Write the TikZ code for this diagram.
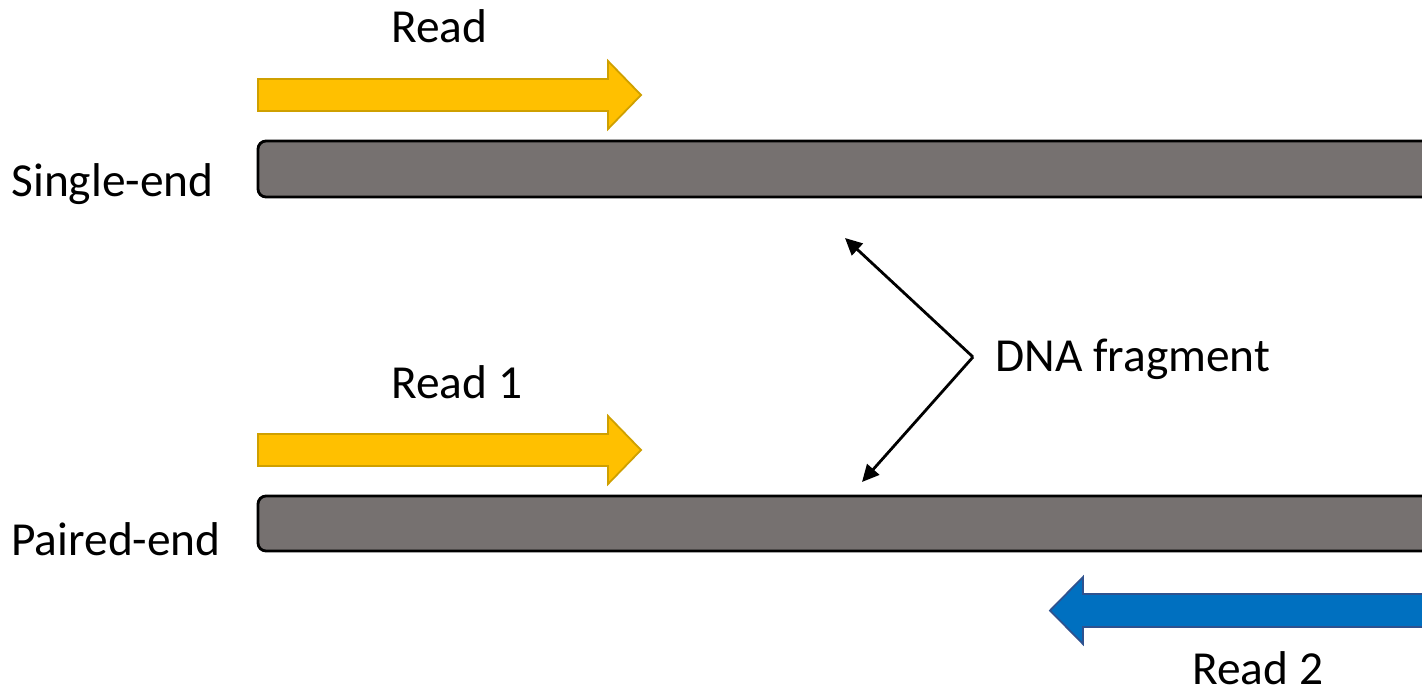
\documentclass[tikz,border=0pt]{standalone}
\usepackage{fontspec}
\setmainfont{Carlito}
\usetikzlibrary{arrows.meta}
\definecolor{barfill}{HTML}{767170}
\definecolor{readfill}{HTML}{FFC000}
\definecolor{readedge}{HTML}{CFA000}
\definecolor{bluefill}{HTML}{0070C0}
\definecolor{blueedge}{HTML}{2F528F}
\tikzset{
  lbl/.style={anchor=base west, inner sep=0pt, font=\fontsize{23.7}{28}\selectfont},
  bar/.style={fill=barfill, draw=black, line width=1.4pt, rounded corners=4pt},
  yread/.style={fill=readfill, draw=readedge, line width=0.9pt, line join=miter},
  bread/.style={fill=bluefill, draw=blueedge, line width=0.9pt, line join=miter},
  pointer/.style={draw=black, line width=1.4pt, -{Triangle[length=8.5pt, width=8pt]}}
}
\begin{document}
\begin{tikzpicture}[x=0.5pt, y=-0.5pt]
\useasboundingbox (0,0) rectangle (1422,691);
\clip (0,0) rectangle (1422,691);
\fill[white] (0,0) rectangle (1422,691);
% bars
\draw[bar] (258,141) rectangle (1460,197);
\draw[bar] (258,496) rectangle (1460,551);
% yellow read arrows
\draw[yread] (258,79) -- (608,79) -- (608,61) -- (641,95) -- (608,129) -- (608,111) -- (258,111) -- cycle;
\draw[yread] (258,434) -- (608,434) -- (608,416) -- (641,450) -- (608,484) -- (608,466) -- (258,466) -- cycle;
% blue read arrow
\draw[bread] (1440,594) -- (1083,594) -- (1083,577) -- (1050,610.5) -- (1083,644) -- (1083,627) -- (1440,627) -- cycle;
% labels
\node[lbl] (read) at (391,42) {Read};
\node[lbl] (read1) at (391,398) {Read 1};
\node[lbl] (read2) at (1192,684) {Read 2};
\node[lbl] (single) at (11,196) {Single-end};
\node[lbl] (paired) at (11,555) {Paired-end};
\node[lbl] (dna) at (995,371) {DNA fragment};
% pointers
\coordinate (v) at (973,357);
\coordinate (t1) at (845,238);
\coordinate (t2) at (862,482);
\draw[pointer] (v) -- (t1);
\draw[pointer] (v) -- (t2);
\end{tikzpicture}
\end{document}
